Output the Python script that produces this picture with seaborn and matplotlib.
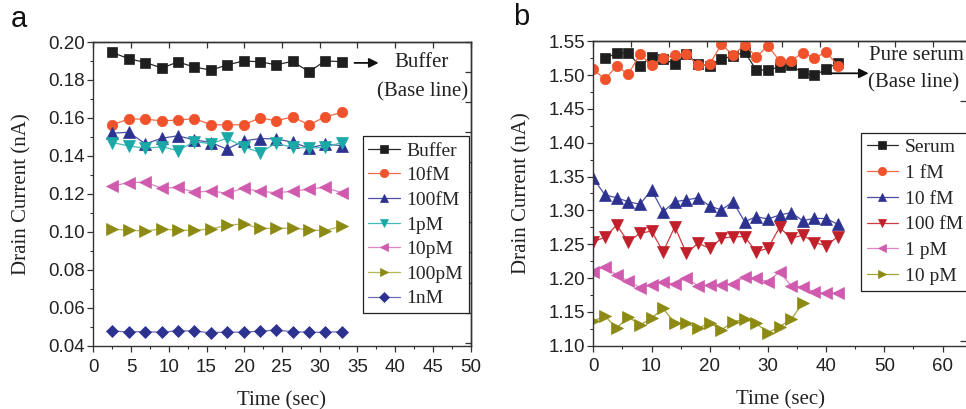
import matplotlib
matplotlib.use("Agg")
import matplotlib.pyplot as plt
import seaborn as sns
from matplotlib.ticker import MultipleLocator, FormatStrFormatter

# ---------------- data ----------------
# panel a
time_a = [2.5, 4.7, 6.9, 9.1, 11.2, 13.4, 15.6, 17.7, 19.9, 22.1, 24.2, 26.4, 28.6, 30.7, 32.9]
buffer_a = [0.1945, 0.1912, 0.1892, 0.1863, 0.1895, 0.1868, 0.1852, 0.1879, 0.1900, 0.1896, 0.1880, 0.1898, 0.1843, 0.1901, 0.1896]
fM10_a = [0.1564, 0.1595, 0.1594, 0.1585, 0.1589, 0.1597, 0.1564, 0.1564, 0.1564, 0.1601, 0.1585, 0.1606, 0.1564, 0.1606, 0.1629]
fM100_a = [0.1520, 0.1525, 0.1464, 0.1494, 0.1506, 0.1485, 0.1471, 0.1436, 0.1479, 0.1492, 0.1490, 0.1473, 0.1441, 0.1462, 0.1455]
pM1_a = [0.1471, 0.1453, 0.1441, 0.1449, 0.1428, 0.1476, 0.1464, 0.1494, 0.1449, 0.1418, 0.1467, 0.1446, 0.1441, 0.1446, 0.1471]
pM10_a = [0.1242, 0.1260, 0.1262, 0.1230, 0.1235, 0.1209, 0.1216, 0.1204, 0.1230, 0.1214, 0.1207, 0.1214, 0.1226, 0.1235, 0.1207]
pM100_a = [0.1014, 0.1010, 0.1005, 0.1017, 0.1008, 0.1010, 0.1015, 0.1036, 0.1042, 0.1019, 0.1019, 0.1021, 0.1010, 0.1007, 0.1031]
nM1_a = [0.0479, 0.0474, 0.0476, 0.0472, 0.0481, 0.0478, 0.0470, 0.0474, 0.0472, 0.0479, 0.0483, 0.0476, 0.0472, 0.0472, 0.0476]
labels_a = ["Buffer", "10fM", "100fM", "1pM", "10pM", "100pM", "1nM"]

# panel b
time_b = [0, 2, 4, 6, 8, 10, 12, 14, 16, 18, 20, 22, 24, 26, 28, 30, 32, 34, 36, 38, 40, 42]
time_serum = [2, 4, 6, 8, 10, 12, 14, 16, 18, 20, 22, 24, 26, 28, 30, 32, 34, 36, 38, 40, 42]
time_10pM = [0, 2, 4, 6, 8, 10, 12, 14, 16, 18, 20, 22, 24, 26, 28, 30, 32, 34, 36]
serum_b = [1.5249, 1.5323, 1.5332, 1.5135, 1.5272, 1.5238, 1.5169, 1.5308, 1.5169, 1.5135, 1.5243,
           1.5278, 1.5342, 1.5076, 1.5076, 1.5120, 1.5150, 1.5027, 1.4997, 1.5086, 1.5184]
fM1_b = [1.5086, 1.4938, 1.5135, 1.5012, 1.5308, 1.5150, 1.5249, 1.5297, 1.5308, 1.5145, 1.5164,
         1.5456, 1.5297, 1.5445, 1.5272, 1.5430, 1.5213, 1.5213, 1.5332, 1.5249, 1.5342, 1.5140]
fM10_b = [1.3475, 1.3228, 1.3188, 1.3129, 1.3090, 1.3302, 1.2981, 1.3129, 1.3154, 1.3188, 1.3065,
          1.3006, 1.3129, 1.2833, 1.2907, 1.2873, 1.2932, 1.2966, 1.2848, 1.2883, 1.2880, 1.2795]
fM100_b = [1.2537, 1.2602, 1.2784, 1.2537, 1.2661, 1.2695, 1.2389, 1.2759, 1.2366, 1.2514, 1.2440,
           1.2587, 1.2611, 1.2611, 1.2389, 1.2440, 1.2750, 1.2587, 1.2636, 1.2522, 1.2480, 1.2611]
pM1_b = [1.2094, 1.2168, 1.2045, 1.1961, 1.1857, 1.1897, 1.1946, 1.1907, 1.2005, 1.1882, 1.1893,
         1.1897, 1.1912, 1.2011, 1.1996, 1.1946, 1.2094, 1.1882, 1.1872, 1.1789, 1.1780, 1.1780]
pM10_b = [1.1365, 1.1439, 1.1257, 1.1429, 1.1306, 1.1405, 1.1553, 1.1331, 1.1331, 1.1257, 1.1340,
          1.1232, 1.1355, 1.1390, 1.1331, 1.1192, 1.1281, 1.1390, 1.1635]
labels_b = ["Serum", "1 fM", "10 fM", "100 fM", "1 pM", "10 pM"]

# ---------------- style ----------------
sns.set_style("ticks")
plt.rcParams['font.family'] = ['Liberation Sans', 'DejaVu Sans']
SERIF = ['Liberation Serif', 'DejaVu Serif']
AX_COL = '#333333'

fig = plt.figure(figsize=(9.66, 4.09), dpi=100)
W, H = 966.0, 409.0
axA = fig.add_axes([93.3 / W, (H - 346.0) / H, 377.4 / W, 304.0 / H])
axB = fig.add_axes([593.3 / W, (H - 345.7) / H, 373.7 / W, 304.4 / H])


def draw(ax, t, y, label, mk, ms, mc, lc):
    sns.lineplot(x=t, y=y, ax=ax, label=label, color=lc, marker=mk, markersize=ms,
                 markerfacecolor=mc, markeredgecolor=mc, markeredgewidth=0.5,
                 linewidth=0.9, sort=False, estimator=None)


# panel a series
draw(axA, time_a, buffer_a, labels_a[0], 's', 6.5, '#1e1e1e', '#2a2a2a')
draw(axA, time_a, fM10_a, labels_a[1], 'o', 7.5, '#f0532b', '#f26a45')
draw(axA, time_a, fM100_a, labels_a[2], '^', 8, '#2d3290', '#4a4fa3')
draw(axA, time_a, pM1_a, labels_a[3], 'v', 8, '#1aa9a6', '#43bcb8')
draw(axA, time_a, pM10_a, labels_a[4], '<', 8, '#d05aad', '#dd86c4')
draw(axA, time_a, pM100_a, labels_a[5], '>', 8, '#8c8a12', '#b7b55a')
draw(axA, time_a, nM1_a, labels_a[6], 'D', 6, '#2d3290', '#6a6fb8')

# panel b series
draw(axB, time_serum, serum_b, labels_b[0], 's', 6.5, '#1e1e1e', '#2a2a2a')
draw(axB, time_b, fM1_b, labels_b[1], 'o', 7.5, '#f0532b', '#f26a45')
draw(axB, time_b, fM10_b, labels_b[2], '^', 8, '#2d3290', '#4a4fa3')
draw(axB, time_b, fM100_b, labels_b[3], 'v', 8, '#c1202a', '#cc3a40')
draw(axB, time_b, pM1_b, labels_b[4], '<', 8, '#d05aad', '#dd86c4')
draw(axB, time_10pM, pM10_b, labels_b[5], '>', 8, '#8c8a12', '#a4a23a')


def style_axes(ax, xlim, xmaj, xmin, ylim, ymaj, ymin, yfmt):
    ax.set_xlim(*xlim)
    ax.set_ylim(*ylim)
    ax.xaxis.set_major_locator(MultipleLocator(xmaj))
    ax.xaxis.set_minor_locator(MultipleLocator(xmin))
    ax.yaxis.set_major_locator(MultipleLocator(ymaj))
    ax.yaxis.set_minor_locator(MultipleLocator(ymin))
    ax.yaxis.set_major_formatter(FormatStrFormatter(yfmt))
    ax.xaxis.set_major_formatter(FormatStrFormatter('%d'))
    ax.tick_params(which='major', direction='out', length=4, width=0.9, color=AX_COL,
                   labelsize=13.5, labelcolor='#222222', top=False, right=False)
    ax.tick_params(which='minor', direction='out', length=2.5, width=0.8, color=AX_COL,
                   top=False, right=False)
    ax.tick_params(axis='x', pad=5)
    ax.tick_params(axis='y', pad=2)
    for s in ax.spines.values():
        s.set_color(AX_COL)
        s.set_linewidth(1.0)
        s.set_visible(True)
    ax.set_xlabel('Time (sec)', family=SERIF, fontsize=15, color='#222222', labelpad=11)
    ax.set_ylabel('Drain Current (nA)', family=SERIF, fontsize=15, color='#222222')
    ax.yaxis.set_label_coords(-0.165, 0.5)


style_axes(axA, (0, 50), 5, 2.5, (0.04, 0.20), 0.02, 0.01, '%.2f')
style_axes(axB, (0, 64.2), 10, 5, (1.10, 1.55), 0.05, 0.025, '%.2f')

# top / right tick rows (inward)
secA_top = axA.secondary_xaxis('top')
secA_top.xaxis.set_major_locator(MultipleLocator(5))
secA_top.tick_params(direction='in', length=4, width=0.9, color=AX_COL, labeltop=False)
secA_right = axA.secondary_yaxis('right', functions=(lambda y: (y - 0.20) * 1896.0 / 30.0,
                                                      lambda s: s * 30.0 / 1896.0 + 0.20))
secA_right.yaxis.set_major_locator(MultipleLocator(1))
secA_right.tick_params(direction='in', length=4, width=0.9, color=AX_COL, labelright=False)

kB = 5.82 / 7.548
secB_top = axB.secondary_xaxis('top', functions=(lambda x: x * kB, lambda s: s / kB))
secB_top.xaxis.set_major_locator(MultipleLocator(5))
secB_top.tick_params(direction='in', length=4, width=0.9, color=AX_COL, labeltop=False)
secB_right = axB.secondary_yaxis('right', functions=(lambda y: (y - 1.55) * 676.4 / 60.0,
                                                      lambda s: s * 60.0 / 676.4 + 1.55))
secB_right.yaxis.set_major_locator(MultipleLocator(1))
secB_right.tick_params(direction='in', length=5, width=0.9, color=AX_COL, labelright=False)
for sec in (secA_top, secA_right, secB_top, secB_right):
    for s in sec.spines.values():
        s.set_color(AX_COL)
        s.set_linewidth(1.0)

# legends
for ax, anchor, loc, lsp in ((axA, (0.995, 0.69), 'upper right', 0.36),
                             (axB, (0.716, 0.70), 'upper left', 0.42)):
    leg = ax.legend(loc=loc, bbox_to_anchor=anchor, borderaxespad=0.0,
                    prop={'family': SERIF, 'size': 14}, frameon=True, fancybox=False,
                    framealpha=1.0, edgecolor='#222222', handlelength=1.6,
                    handletextpad=0.35, labelspacing=lsp, borderpad=0.3, markerscale=0.8)
    leg.get_frame().set_linewidth(0.9)

# annotations
arrow = dict(arrowstyle='-|>', color='#111111', lw=1.3, mutation_scale=14, shrinkA=0, shrinkB=0)
axA.annotate('', xy=(37.8, 0.189), xytext=(34.6, 0.189), arrowprops=arrow)
axA.text(43.5, 0.189, 'Buffer', family=SERIF, fontsize=15, ha='center', va='center', color='#222222')
axA.text(43.6, 0.1738, '(Base line)', family=SERIF, fontsize=15, ha='center', va='center', color='#222222')

axB.annotate('', xy=(47.3, 1.5027), xytext=(40.7, 1.5027), arrowprops=arrow, annotation_clip=False)
axB.text(55.5, 1.5287, 'Pure serum', family=SERIF, fontsize=15, ha='center', va='center', color='#222222')
axB.text(55.1, 1.4879, '(Base line)', family=SERIF, fontsize=15, ha='center', va='center', color='#222222')

# panel letters
fig.text(19 / W, 1 - 19 / H, 'a', fontsize=21, ha='center', va='center', color='#111111')
fig.text(521 / W, 1 - 17 / H, 'b', fontsize=21, ha='center', va='center', color='#111111')

fig.savefig('out.png', dpi=100)
